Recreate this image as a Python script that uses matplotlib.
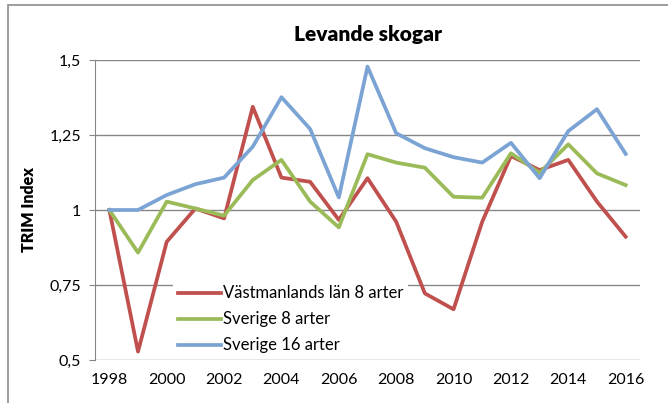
import matplotlib.pyplot as plt
from matplotlib.patches import Rectangle

years = list(range(1998, 2017))
vastmanland_8 = [1.0, 0.528, 0.894, 1.005, 0.972, 1.344, 1.108, 1.094, 0.967, 1.106,
                 0.961, 0.722, 0.669, 0.961, 1.18, 1.133, 1.167, 1.028, 0.911]
sverige_8 = [1.0, 0.858, 1.028, 1.005, 0.981, 1.1, 1.167, 1.028, 0.942, 1.186,
             1.158, 1.141, 1.044, 1.041, 1.189, 1.124, 1.219, 1.122, 1.083]
sverige_16 = [1.0, 1.0, 1.05, 1.086, 1.108, 1.211, 1.376, 1.27, 1.042, 1.478,
              1.256, 1.206, 1.176, 1.158, 1.224, 1.106, 1.263, 1.336, 1.187]
series_names = ['Västmanlands län 8 arter', 'Sverige 8 arter', 'Sverige 16 arter']
y_ticks = [0.5, 0.75, 1.0, 1.25, 1.5]
y_tick_labels = ['0,5', '0,75', '1', '1,25', '1,5']
x_ticks = list(range(1998, 2017, 2))

plt.rcParams['font.family'] = ['Lato', 'DejaVu Sans']

fig = plt.figure(figsize=(6.68, 4.03), dpi=100)
ax = fig.add_axes([95 / 668, 1 - 360 / 403, 545 / 668, 300 / 403])

# chart border (Excel style), cropped on right/bottom
fig.patches.append(Rectangle((8 / 668, -0.1), 1.2, 1.1 - 5 / 403,
                             transform=fig.transFigure, fill=False,
                             edgecolor='#8c8c8c', linewidth=1.2))

colors = ['#C0504D', '#9BBB59', '#7BA4D4']
for vals, name, c in zip([vastmanland_8, sverige_8, sverige_16], series_names, colors):
    ax.plot(years, vals, color=c, linewidth=2.7, label=name)

ax.set_xlim(1997.5, 2016.5)
ax.set_ylim(0.5, 1.5)
ax.set_yticks(y_ticks)
ax.set_yticklabels(y_tick_labels)
ax.set_xticks(x_ticks)
ax.tick_params(axis='y', length=4, color='#868686', labelsize=11.5, pad=6)
ax.tick_params(axis='x', length=0, labelsize=11.5, pad=9)
ax.grid(axis='y', color='#868686', linewidth=1)
ax.set_axisbelow(True)
for s in ['top', 'right', 'bottom']:
    ax.spines[s].set_visible(False)
ax.spines['left'].set_color('#868686')

ax.set_ylabel('TRIM Index', fontsize=11.5, fontweight='heavy', labelpad=9)
ax.set_title('Levande skogar', fontsize=15, fontweight='heavy', pad=14)

leg = ax.legend(loc='lower left', bbox_to_anchor=(0.14, 0.0), frameon=True,
                fontsize=12, handlelength=2.6, handletextpad=0.1,
                labelspacing=0.6, borderaxespad=0.1, borderpad=0.3)
leg.get_frame().set_edgecolor('none')
leg.get_frame().set_facecolor('white')
leg.get_frame().set_alpha(1)

fig.savefig('out.png', dpi=100)
